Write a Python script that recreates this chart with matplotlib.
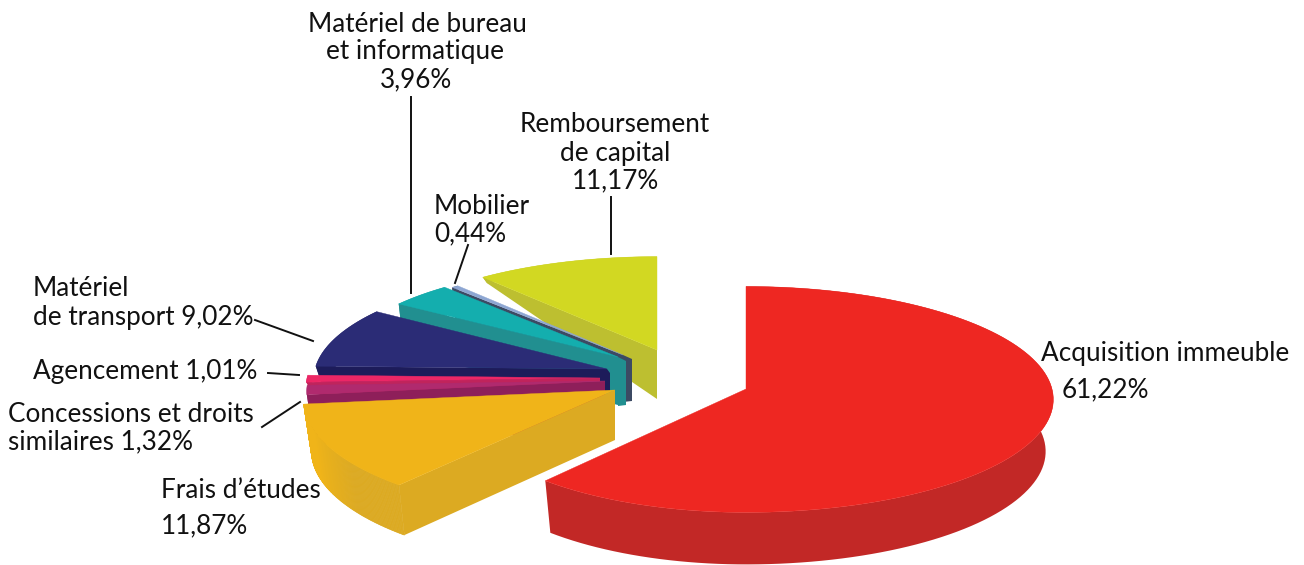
import numpy as np
import matplotlib
matplotlib.use('Agg')
import matplotlib.pyplot as plt
from matplotlib.colors import to_rgb
from matplotlib.patches import Polygon

plt.rcParams['font.family'] = ['Lato', 'DejaVu Sans']

names = ['Acquisition immeuble', "Frais d\u2019\u00e9tudes", 'Concessions et droits similaires',
         'Agencement', 'Mat\u00e9riel de transport', 'Mat\u00e9riel de bureau et informatique',
         'Mobilier', 'Remboursement de capital']
values = [61.22, 11.87, 1.32, 1.01, 9.02, 3.96, 0.44, 11.17]

# look of each slice, same order as values
top_colors  = ['#ee2722', '#f0b419', '#b02a6e', '#ec2766', '#2b2c76', '#14aeae', '#8da6d2', '#d2d822']
wall_colors = ['#c22826', '#dcaa22', '#8e1f5a', '#c0245c', '#1d1c5a', '#218f90', '#3c4a63', '#bdbf30']
# apex x, apex y, radius right, radius left, radius y, wall at apex, wall at outer corner, apex side width
geom = [(746, 389, 306, 288, 112, 52, 52, 0),
        (615, 390, 310, 310, 116, 50, 50, 0),
        (605, 381, 297, 297, 112, 50, 50, 0),
        (600, 378, 293, 293, 110, 12, 12, 0),
        (607, 369, 292, 292, 108, 22, 22, 3),
        (618, 357, 278, 278, 100, 48, 48, 8),
        (623, 355, 274, 274, 97, 46, 46, 9),
        (657, 350, 289, 289, 102, 49, 6, 0)]
persp = 0.0925
wall_shrink = 0.975  # verticals lean in towards the bottom


def rim(g, a1, a2):
    th = np.radians(np.linspace(a1, a2, 120))
    s = 1.0/(1.0 + persp*np.cos(th))
    rx = np.where(np.sin(th) > 0, g[2], g[3])
    return np.column_stack((g[0] + rx*np.sin(th)*s, g[1] - g[4]*np.cos(th)*s))


def lower(g, pts, h):
    out = np.array(pts, dtype=float)
    out[:, 0] = g[0] + (out[:, 0] - g[0])*wall_shrink
    out[:, 1] += h
    return out


def draw_slice(ax, i, a1, a2, z):
    g = geom[i]
    arc = rim(g, a1, a2)
    apex = np.array([[g[0], g[1]]], dtype=float)
    bottom = lower(g, arc, g[6])
    if i == 1:
        # the orange wall fades into its top towards the left
        c0, c1 = np.array(to_rgb(wall_colors[i])), np.array(to_rgb(top_colors[i]))
        for k in range(len(arc) - 1):
            t = np.clip((k/(len(arc) - 1.0) - 0.3)/0.4, 0, 1)
            quad = [arc[k], arc[k + 1], bottom[k + 1], bottom[k]]
            ax.add_patch(Polygon(quad, fc=c0 + (c1 - c0)*t, ec=c0 + (c1 - c0)*t, lw=0.5, zorder=z))
    else:
        ax.add_patch(Polygon(np.vstack((arc, bottom[::-1])), fc=wall_colors[i], ec='none', zorder=z))
    # cut face
    c = arc[:1]
    face = np.vstack((c, apex, lower(g, apex, g[5]), lower(g, c, g[6])))
    ax.add_patch(Polygon(face, fc=wall_colors[i], ec='none', zorder=z))
    if g[7] > 0:
        side = g[0] + g[7]
        ax.add_patch(Polygon([(g[0], g[1]), (side, g[1] + 4), (side, g[1] + g[5]), (g[0], g[1] + g[5] + 1)],
                             fc=wall_colors[i], ec='none', zorder=z))
    ax.add_patch(Polygon(np.vstack((apex, arc)), fc=top_colors[i], ec=top_colors[i], lw=0.3, zorder=z))


def pct(i):
    return ('%.2f%%' % values[i]).replace('.', ',')


fig = plt.figure(figsize=(13.04, 5.65), dpi=100)
ax = fig.add_axes([0, 0, 1, 1])
ax.set_xlim(0, 1304)
ax.set_ylim(565, 0)
ax.axis('off')

ends = np.cumsum(values)/np.sum(values)*360.0
starts = np.concatenate(([0.0], ends[:-1]))
# painted from the back to the front
for z, i in enumerate([7, 6, 5, 4, 3, 2, 1, 0]):
    draw_slice(ax, i, starts[i], ends[i], z + 1)

labels = [('Mat\u00e9riel de bureau', 417, 24, 'center'),
          ('et informatique', 415, 52, 'center'),
          (pct(5), 416, 80, 'center'),
          ('Remboursement', 615, 125, 'center'),
          ('de capital', 615, 153, 'center'),
          (pct(7), 615, 181, 'center'),
          ('Mobilier', 434, 206, 'left'),
          (pct(6), 434, 234, 'left'),
          ('Mat\u00e9riel', 33, 288, 'left'),
          ('de transport ' + pct(4), 33, 317, 'left'),
          ('Agencement ' + pct(3), 33, 371, 'left'),
          ('Concessions et droits', 8, 414, 'left'),
          ('similaires ' + pct(2), 8, 442, 'left'),
          (names[1], 161, 490, 'left'),
          (pct(1), 161, 526, 'left'),
          (names[0], 1041, 354, 'left'),
          (pct(0), 1062, 390, 'left')]
for t, x, y, ha in labels:
    ax.text(x, y, t, ha=ha, va='center', fontsize=18.8, color='#111111', zorder=20)

leaders = [((411, 411), (97, 293)),
           ((611, 611), (197, 254)),
           ((468, 455), (245, 283)),
           ((255, 313), (320, 341)),
           ((268, 299), (373, 375)),
           ((262, 300), (427, 402))]
for xs, ys in leaders:
    ax.plot(xs, ys, color='#111111', lw=1.4, zorder=19)

fig.savefig('out.png', dpi=100)
